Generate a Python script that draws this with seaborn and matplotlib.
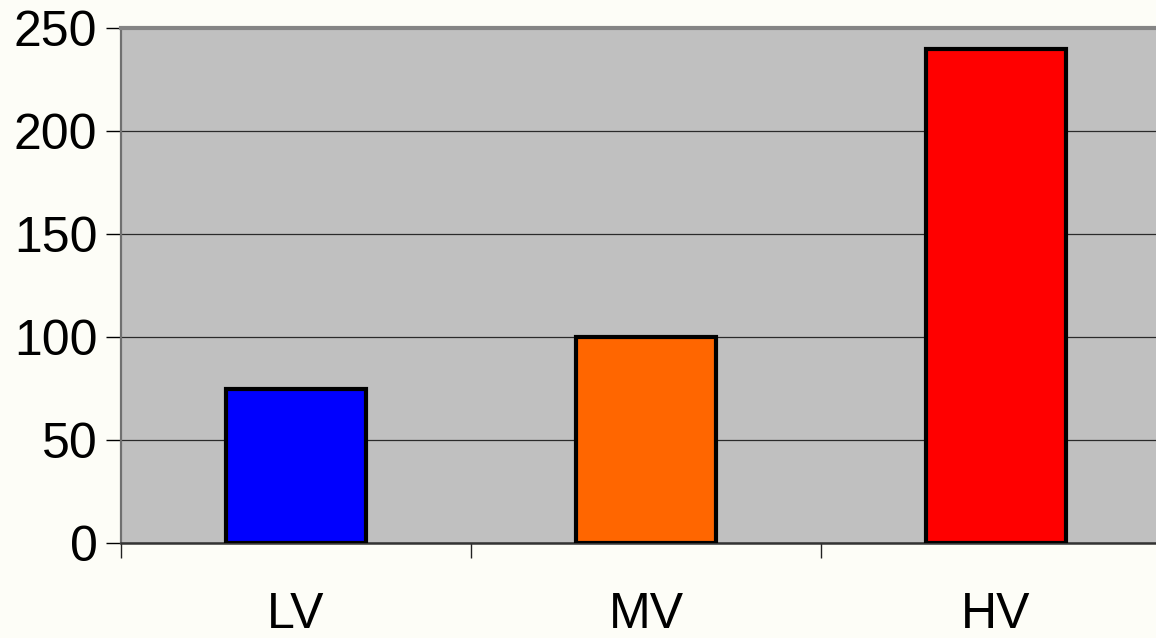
import matplotlib
matplotlib.use("Agg")
import matplotlib.pyplot as plt
import seaborn as sns
import pandas as pd

# Voltage classes and their counts
categories = ["LV", "MV", "HV"]
values = [75, 100, 240]
bar_colors = ["#0000FF", "#FF6600", "#FF0000"]
y_ticks = [0, 50, 100, 150, 200, 250]

df = pd.DataFrame({"category": categories, "value": values})

sns.set_theme(style="white")
plt.rcParams["font.family"] = ["Liberation Sans", "DejaVu Sans"]

fig = plt.figure(figsize=(11.56, 6.38), dpi=100, facecolor="#FDFDF7")
# plot area runs a little past the right edge of the canvas
ax = fig.add_axes([121 / 1156, 95 / 638, 1050 / 1156, 515 / 638])
ax.set_facecolor("#C0C0C0")

sns.barplot(
    data=df, x="category", y="value", hue="category",
    palette=bar_colors, legend=False, width=0.40,
    edgecolor="black", linewidth=3.0, saturation=1, ax=ax, zorder=3,
)

ax.set_ylim(0, 250)
ax.set_xlim(-0.5, 2.5)
ax.set_yticks(y_ticks)
ax.set_xlabel("")
ax.set_ylabel("")

# horizontal gridlines
ax.yaxis.grid(True, color="#2a2a2a", linewidth=0.9, zorder=1)
ax.xaxis.grid(False)
ax.set_axisbelow(True)

# tick styling
ax.tick_params(axis="y", which="major", direction="out", length=11, width=1.0,
               color="black", labelsize=36, pad=6, left=True)
ax.tick_params(axis="x", which="major", length=0, labelsize=36, pad=35,
               bottom=True)
ax.set_xticks([-0.5, 0.5, 1.5], minor=True)
ax.tick_params(axis="x", which="minor", direction="out", length=11, width=1.0,
               color="#222222", bottom=True)
for lbl in ax.get_yticklabels() + ax.get_xticklabels():
    lbl.set_color("black")

# frame
ax.spines["top"].set_color("#858585")
ax.spines["top"].set_linewidth(3.0)
ax.spines["left"].set_color("#707070")
ax.spines["left"].set_linewidth(1.6)
ax.spines["bottom"].set_color("#333333")
ax.spines["bottom"].set_linewidth(1.8)
ax.spines["right"].set_visible(False)

fig.savefig("out.png", dpi=100, facecolor=fig.get_facecolor())
